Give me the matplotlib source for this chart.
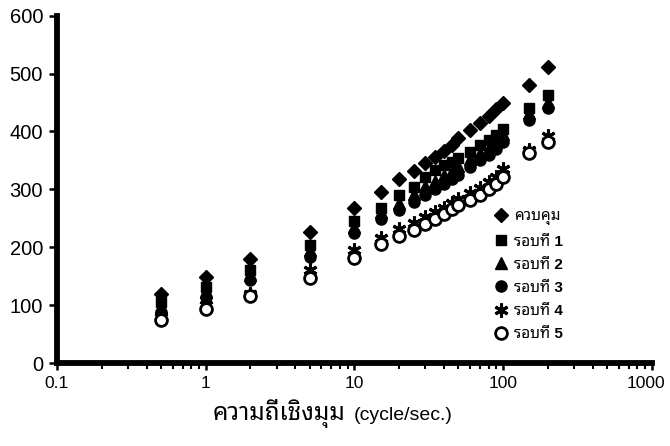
import matplotlib
matplotlib.use("Agg")
import matplotlib.pyplot as plt
import matplotlib.transforms as mtransforms
from matplotlib.ticker import LogLocator, NullFormatter, FixedFormatter, FixedLocator

# Latin digits in a Helvetica-like face, Thai glyphs fall through to a looped Thai face
plt.rcParams["font.family"] = ["Liberation Sans", "Noto Sans Thai Looped", "DejaVu Sans"]

# angular frequency (cycle/sec.)
freq = [0.5, 1, 2, 5, 10, 15, 20, 25, 30, 35, 40, 45, 50, 60, 70, 80, 90, 100, 150, 200]

control = [120, 148, 179, 226, 268, 296, 317, 331, 345, 356, 367, 376, 389, 402, 414, 427, 438, 449, 480, 511]
round1 = [105, 131, 161, 204, 245, 268, 290, 304, 322, 333, 342, 347, 354, 365, 376, 385, 393, 405, 440, 463]
round2 = [97, 122, 152, 195, 235, 260, 277, 292, 305, 315, 325, 332, 340, 352, 362, 372, 382, 395, 432, 450]
round3 = [88, 114, 143, 183, 224, 248, 265, 278, 290, 300, 310, 318, 325, 338, 350, 360, 370, 382, 420, 440]
round4 = [80, 100, 120, 160, 195, 216, 232, 242, 252, 260, 268, 276, 283, 293, 302, 313, 322, 335, 368, 392]
round5 = [75, 94, 116, 147, 181, 205, 219, 229, 240, 249, 257, 266, 273, 281, 290, 300, 310, 322, 362, 381]

labels = ["ควบคุม", "รอบที่ 1", "รอบที่ 2", "รอบที่ 3", "รอบที่ 4", "รอบที่ 5"]

fig = plt.figure(figsize=(6.7, 4.46), dpi=100)
ax = fig.add_axes([0.085, 0.186, 0.888, 0.779])

series = [control, round1, round2, round3, round4, round5]
styles = [
    dict(marker="D", ms=7, mfc="black", mec="black"),
    dict(marker="s", ms=7, mfc="black", mec="black"),
    dict(marker="^", ms=8, mfc="black", mec="black"),
    dict(marker="o", ms=8, mfc="black", mec="black"),
    dict(marker=(6, 2, 0), ms=10, mfc="black", mec="black", mew=2.2),
    dict(marker="o", ms=8.5, mfc="white", mec="black", mew=2.0),
]
for vals, lab, st in zip(series, labels, styles):
    ax.plot(freq, vals, ls="none", label=lab, **st)

ax.set_xscale("log")
ax.set_xlim(0.1, 1000)
ax.set_ylim(0, 600)

ax.xaxis.set_major_locator(FixedLocator([0.1, 1, 10, 100, 1000]))
ax.xaxis.set_major_formatter(FixedFormatter(["0.1", "1", "10", "100", "1000"]))
ax.xaxis.set_minor_locator(LogLocator(base=10, subs=range(2, 10)))
ax.xaxis.set_minor_formatter(NullFormatter())
ax.set_yticks(range(0, 601, 100))

for s in ("top", "right"):
    ax.spines[s].set_visible(False)
for s in ("left", "bottom"):
    ax.spines[s].set_linewidth(4.2)

ax.tick_params(axis="y", which="major", direction="out", length=6, width=1.8,
               labelsize=14.5, pad=4)
ax.tick_params(axis="x", which="major", direction="out", length=5, width=1.8,
               labelsize=12.5, pad=4)
ax.tick_params(axis="x", which="minor", direction="out", length=4.5, width=1.5)

# nudge the last x label inward so it stays on the canvas
last = ax.get_xticklabels()[-1]
last.set_transform(last.get_transform() +
                   mtransforms.ScaledTranslation(-4 / 72, 0, fig.dpi_scale_trans))

# axis title: Thai words set larger than the bracketed unit
fig.text(346 / 670, 1 - 420 / 446, "ความถี่เชิงมุม", fontsize=17.5,
         ha="right", va="baseline")
fig.text(354 / 670, 1 - 420 / 446, "(cycle/sec.)", fontsize=14,
         ha="left", va="baseline")

leg = ax.legend(loc="upper left", bbox_to_anchor=(0.72, 0.46), frameon=False,
                fontsize=11, handletextpad=0.3, labelspacing=0.6,
                borderaxespad=0, handlelength=1.2)
for t in leg.get_texts():
    t.set_fontweight("bold")

fig.savefig("out.png", dpi=100, facecolor="white")
